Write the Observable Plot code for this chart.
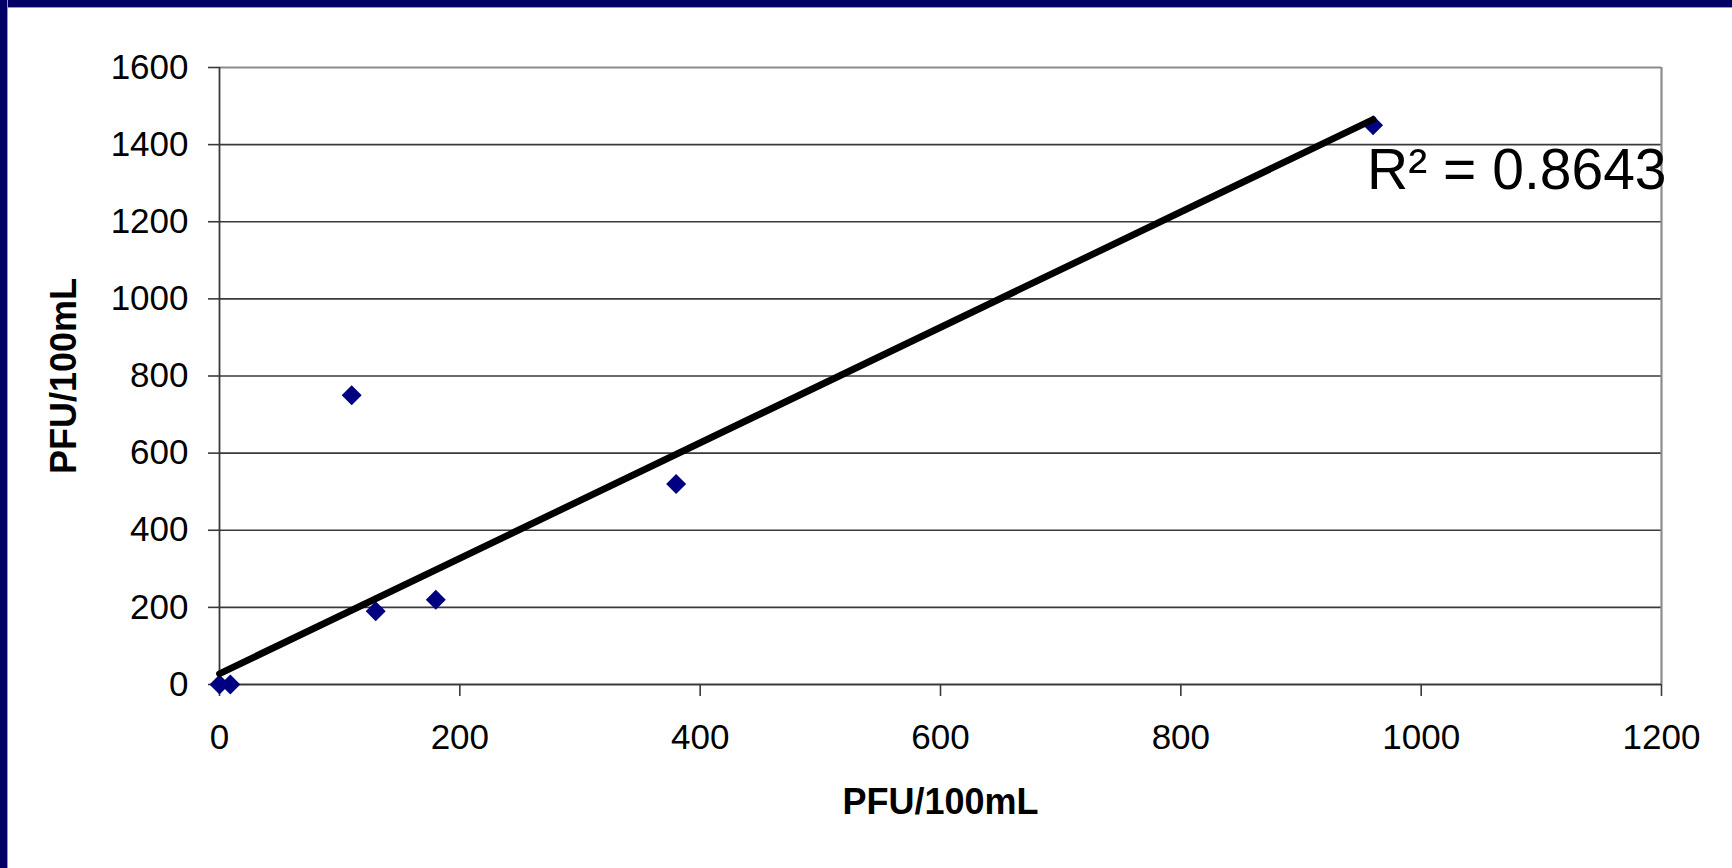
<!DOCTYPE html>
<html>
<head>
<meta charset="utf-8">
<script src="https://cdn.jsdelivr.net/npm/d3@7"></script>
<script src="https://cdn.jsdelivr.net/npm/@observablehq/plot@0.6"></script>
<style>
  html, body { margin: 0; padding: 0; background: #ffffff; overflow: hidden; width: 1732px; height: 868px; }
  #barTop { position: absolute; left: 0; top: 0; width: 1732px; height: 7px; background: #000066; border-bottom: 1px solid #9a9a9a; }
  #barLeft { position: absolute; left: 0; top: 0; width: 7px; height: 868px; background: #000066; border-right: 1px solid #9a9a9a; }
  #chart { position: absolute; left: 8px; top: 8px; width: 1724px; height: 860px; background: #ffffff; }
  svg { display: block; }
</style>
</head>
<body>
<div id="barTop"></div>
<div id="barLeft"></div>
<div id="chart"></div>
<script>
// Data
const xValues = [0, 9, 110, 130, 180, 380, 960];
const yValues = [0, 0, 750, 190, 220, 520, 1450];
// Linear trendline (as drawn in the picture)
const trendX = [0, 960];
const trendY = [28, 1465];
const r2Label = "R² = 0.8643";
const axisTitleX = "PFU/100mL";
const axisTitleY = "PFU/100mL";
const xTicks = [0, 200, 400, 600, 800, 1000, 1200];
const yTicks = [0, 200, 400, 600, 800, 1000, 1200, 1400, 1600];

const points = xValues.map((x, i) => ({x, y: yValues[i]}));
const trend = trendX.map((x, i) => ({x, y: trendY[i]}));
const gridTicks = yTicks.filter(t => t > 0 && t < 1600);

const chart = Plot.plot({
  width: 1724,
  height: 860,
  marginLeft: 211,
  marginTop: 59,
  marginRight: 71,
  marginBottom: 184,
  x: {domain: [0, 1200]},
  y: {domain: [0, 1600]},
  style: {fontFamily: "'Liberation Sans', Arial, sans-serif", fontSize: "35px", color: "#000", background: "#fff"},
  marks: [
    Plot.ruleY(gridTicks, {stroke: "#3a3a3a", strokeWidth: 1.6}),
    Plot.ruleY([1600], {stroke: "#8c8c8c", strokeWidth: 2.2}),
    Plot.ruleX([1200], {stroke: "#8c8c8c", strokeWidth: 2.2}),
    Plot.axisY({ticks: yTicks, tickSize: 11, tickPadding: 20, label: null, fontSize: 35, stroke: "#3a3a3a", strokeWidth: 1.6, tickFormat: d => String(d)}),
    Plot.axisX({ticks: xTicks, tickSize: 12, tickPadding: 28, label: null, fontSize: 35, stroke: "#3a3a3a", strokeWidth: 1.6, tickFormat: d => String(d)}),
    Plot.ruleX([0], {stroke: "#3a3a3a", strokeWidth: 1.8}),
    Plot.ruleY([0], {stroke: "#3a3a3a", strokeWidth: 1.8}),
    Plot.dot(points, {x: "x", y: "y", symbol: "diamond2", r: 9, fill: "#000080", stroke: "none"}),
    Plot.line(trend, {x: "x", y: "y", stroke: "#000", strokeWidth: 6.8}),
    Plot.text([r2Label], {x: 955, y: 1286, text: d => d, textAnchor: "start", lineAnchor: "bottom", fontSize: 57, fill: "#000"}),
    Plot.text([axisTitleX], {frameAnchor: "bottom", dy: 129, textAnchor: "middle", lineAnchor: "bottom", text: d => d, fontSize: 36, fontWeight: "bold", fill: "#000"}),
    Plot.text([axisTitleY], {frameAnchor: "left", dx: -144, rotate: -90, textAnchor: "middle", lineAnchor: "bottom", text: d => d, fontSize: 36, fontWeight: "bold", fill: "#000"})
  ]
});
document.getElementById("chart").appendChild(chart);
</script>
</body>
</html>
